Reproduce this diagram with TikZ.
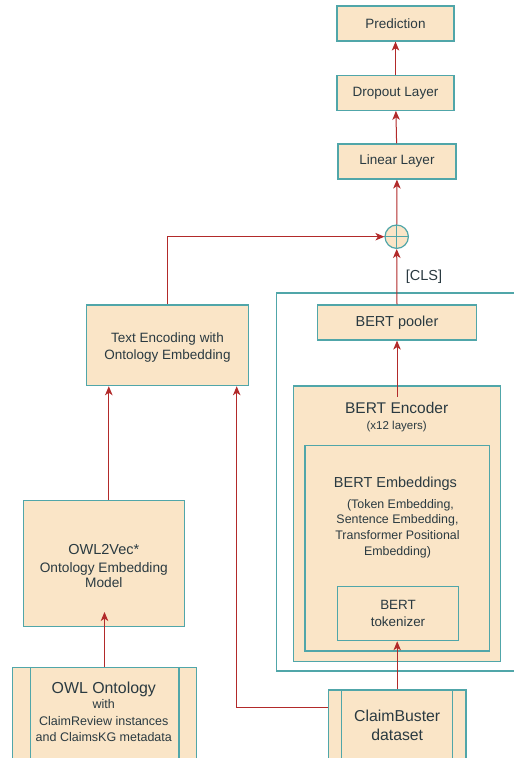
\documentclass[tikz,border=0pt]{standalone}
\usepackage{fontspec}
\setmainfont{Liberation Sans}
\usetikzlibrary{arrows.meta}
\definecolor{boxfill}{HTML}{FAE5C7}
\definecolor{boxline}{HTML}{50A6A9}
\definecolor{txt}{HTML}{2A3A41}
\definecolor{arrred}{HTML}{B22A2A}
\newcommand{\fs}[2]{\fontsize{#1}{#2}\selectfont}
\tikzset{
  box/.style={draw=boxline, fill=boxfill, line width=1.2pt, inner sep=0pt, text=txt, align=center},
  proc/.style={box},
  lbl/.style={inner sep=0pt, text=txt, align=center},
  arr/.style={draw=arrred, line width=1pt, -{Stealth[length=9pt,width=7.5pt,inset=2.5pt]}},
}
\begin{document}
\begin{tikzpicture}[x=1pt,y=-1pt]
\useasboundingbox (0,0) rectangle (514,758);
\clip (0,0) rectangle (514,758);
\fill[white] (0,0) rectangle (514,758);

% outer BERT frame
\draw[draw=boxline, line width=1.2pt] (530,293) -- (276.7,293) -- (276.7,671) -- (530,671);

% top stack
\node[box, minimum width=117pt, minimum height=35pt, font=\fs{13.5}{16}] (pred) at (395.5,23.5) {Prediction};
\node[box, minimum width=117pt, minimum height=34.5pt, font=\fs{13.5}{16}] (drop) at (395.5,93) {Dropout Layer};
\node[box, minimum width=118pt, minimum height=35pt, font=\fs{13.5}{16}] (lin) at (397,161.5) {Linear Layer};
\node[draw=boxline, fill=boxfill, line width=1.2pt, circle, minimum size=23.4pt, inner sep=0pt] (circ) at (396.7,236.7) {};
\draw[draw=boxline, line width=1.2pt] (circ.north) -- (circ.south) (circ.west) -- (circ.east);

% BERT side
\node[box, minimum width=158.6pt, minimum height=35pt, font=\fs{14.5}{17}] (pool) at (397,322.5) {BERT pooler};
\node[box, minimum width=207.4pt, minimum height=275.7pt] (enc) at (397,523.8) {};
\node[lbl, font=\fs{15.5}{18}] (encT) at (396.7,408.3) {BERT Encoder};
\node[lbl, font=\fs{11.5}{14}] (encS) at (396.7,426.7) {(x12 layers)};
\coordinate (encTop) at (397,396.7);
\node[box, minimum width=184.3pt, minimum height=205.3pt] (emb) at (397.2,548.3) {};
\node[lbl, font=\fs{14.5}{17}] (embT) at (395.5,484) {BERT Embeddings};
\node[lbl, font=\fs{12.4}{15.7}, anchor=north] (embS) at (397.5,499) {\hspace*{6pt}(Token Embedding,\\Sentence Embedding,\\Transformer Positional\\Embedding)};
\node[box, minimum width=120.6pt, minimum height=54pt, font=\fs{13.4}{16.6}] (tok) at (398,613.7) {BERT\\tokenizer};
\node[proc, minimum width=137.7pt, minimum height=71pt, font=\fs{15.8}{19}] (cb) at (397.2,725.5) {ClaimBuster\\dataset};
\draw[draw=boxline, line width=1.2pt] ([xshift=13.8pt]cb.north west) -- ([xshift=13.8pt]cb.south west)
  ([xshift=-13.8pt]cb.north east) -- ([xshift=-13.8pt]cb.south east);

% ontology side
\node[box, minimum width=161.6pt, minimum height=80.7pt] (te) at (167.5,345.3) {};
\node[lbl, font=\fs{13.5}{17.6}] (teT) at (167.5,347.5) {Text Encoding with\\Ontology Embedding};
\node[box, minimum width=161pt, minimum height=126pt] (owl2) at (103.8,563.7) {};
\node[lbl, font=\fs{13.7}{15.7}] (owl2T) at (103.8,566) {{\fs{14.5}{17}OWL2Vec*}\\[2pt]Ontology Embedding\\Model};
\coordinate (owlIn) at (104.5,612);
\node[proc, minimum width=184.4pt, minimum height=93.7pt] (ont) at (104.5,714.2) {};
\draw[draw=boxline, line width=1.2pt] ([xshift=18.4pt]ont.north west) -- ([xshift=18.4pt]ont.south west)
  ([xshift=-18.4pt]ont.north east) -- ([xshift=-18.4pt]ont.south east);
\node[lbl, font=\fs{12.5}{16.2}, anchor=north] (ontT) at (103.8,682) {{\fs{15.9}{18}OWL Ontology}\\[-1pt]with\\ClaimReview instances\\and ClaimsKG metadata};

\node[lbl, font=\fs{14.5}{17}] (cls) at (424,277) {[CLS]};

% connectors
\draw[arr] (lin) -- (drop);
\draw[arr] (drop) -- (pred);
\draw[arr] (circ) -- (lin);
\draw[arr] (pool.north) -- (circ.south);
\draw[arr] (te.north) |- (circ.west);
\draw[arr] (encTop) -- (encTop |- pool.south);
\draw[arr] (cb.north) -- (cb.north |- tok.south);
\draw[arr] ([yshift=17.8pt]cb.west) -| ([xshift=69.2pt]te.south);
\draw[arr] ([xshift=5pt]owl2.north) -- ([xshift=5pt]owl2.north |- te.south);
\draw[arr] (ont.north) -- (owlIn);
\end{tikzpicture}
\end{document}
